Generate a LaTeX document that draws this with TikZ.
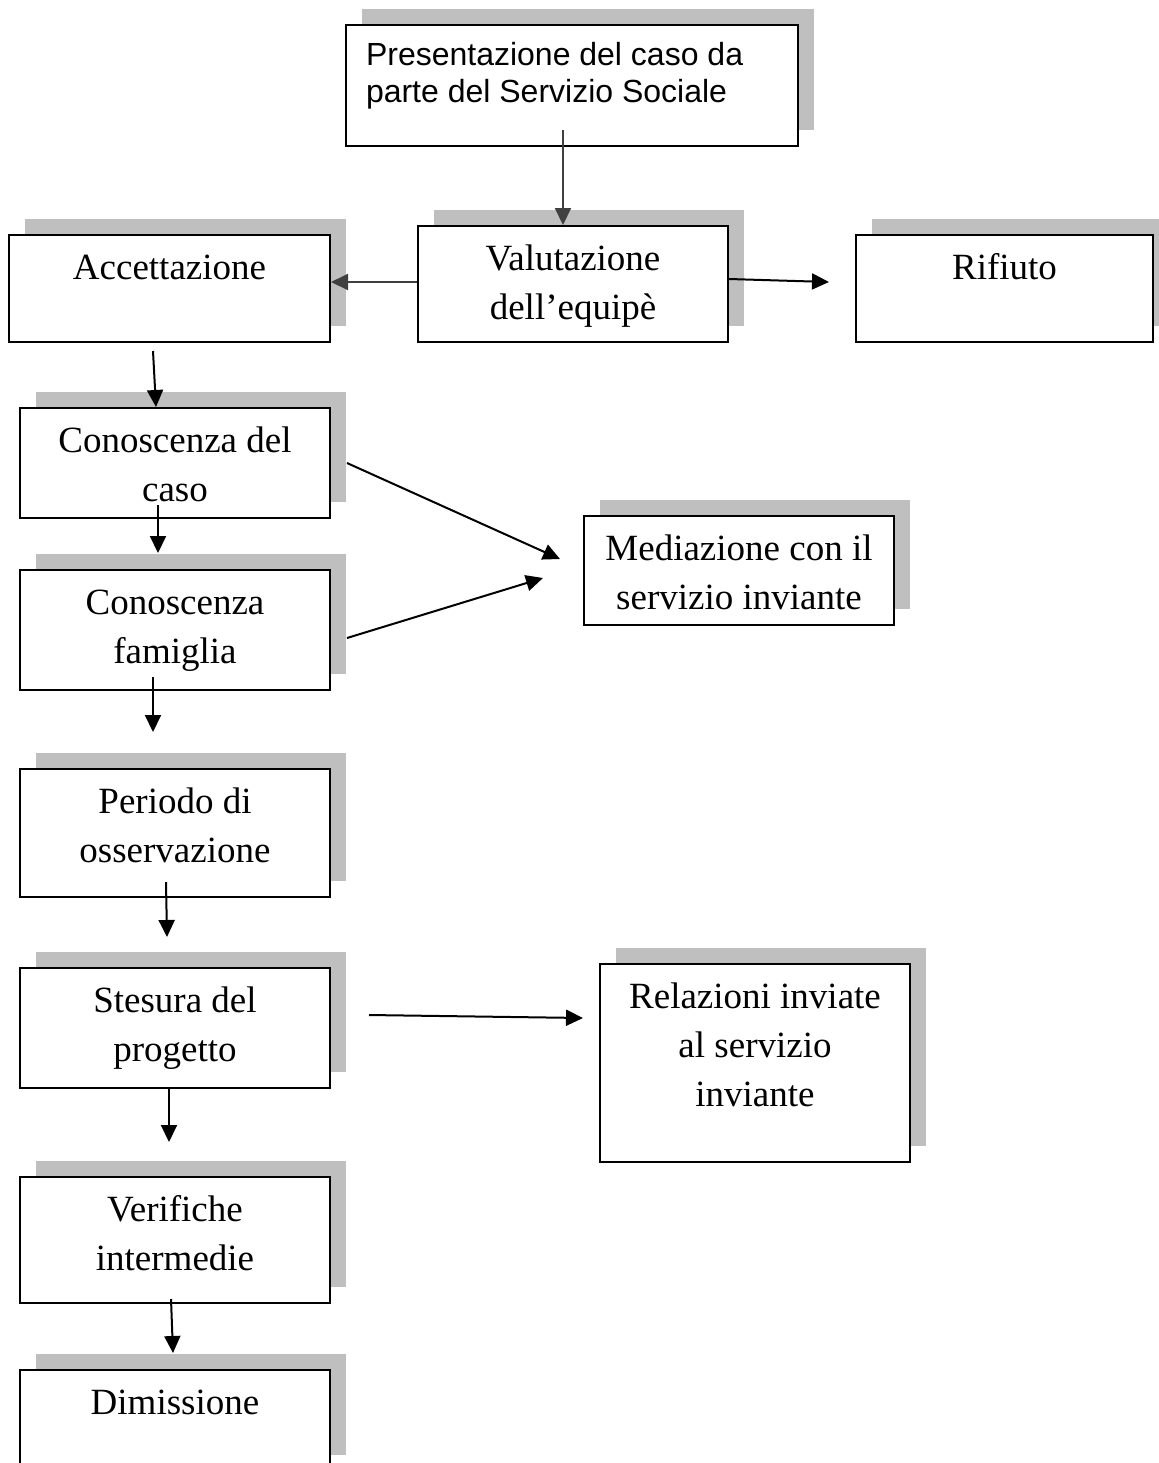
\documentclass[tikz,border=0pt]{standalone}
\usepackage{fontspec}
\setmainfont{Liberation Serif}
\newfontfamily\arialfont{Liberation Sans}
\definecolor{shadowgray}{RGB}{191,191,191}
\definecolor{arrowgray}{RGB}{64,64,64}
\usetikzlibrary{shadows, arrows.meta, positioning, calc}
% text block of a box: fixed size, text on top
\newcommand{\boxtext}[3]{\parbox[c][#2][t]{#1}{\centering\rule{0pt}{22pt}#3}}

\begin{document}
\begin{tikzpicture}[x=0.5pt, y=-0.5pt,
  font=\fontsize{18.5}{24.5}\selectfont,
  stepbox/.style={draw, fill=white, line width=1pt, inner sep=0pt, anchor=north west,
    general shadow={fill=shadowgray, shadow xshift=8pt, shadow yshift=8pt}},
  flow/.style={-{Triangle[length=8.5pt, width=8pt]}, line width=1pt},
  greyflow/.style={flow, draw=arrowgray, fill=arrowgray}]

  \useasboundingbox (0,0) rectangle (1159,1463);
  \clip (0,0) rectangle (1159,1463);

  % top of the chart
  \node[stepbox, inner xsep=10pt, font=\arialfont\fontsize{16}{18.5}\selectfont] (pres) at (345,24)
    {\parbox[c][60.5pt][t]{206pt}{\raggedright\rule{0pt}{20pt}Presentazione del caso da\\parte del Servizio Sociale}};
  \node[stepbox] (valu) at (417,225) {\boxtext{155pt}{58pt}{Valutazione\\dell’equipè}};
  \node[stepbox] (acc) at (8,234) {\boxtext{160.5pt}{53.5pt}{Accettazione}};
  \node[stepbox] (rif) at (855,234) {\boxtext{148.5pt}{53.5pt}{Rifiuto}};

  % left column
  \node[stepbox] (cdc) at (19,407) {\boxtext{155pt}{55pt}{Conoscenza del\\caso}};
  \node[stepbox] (cfa) at (19,569) {\boxtext{155pt}{60pt}{Conoscenza\\famiglia}};
  \node[stepbox] (per) at (19,768) {\boxtext{155pt}{64pt}{Periodo di\\osservazione}};
  \node[stepbox] (ste) at (19,967) {\boxtext{155pt}{60pt}{Stesura del\\progetto}};
  \node[stepbox] (ver) at (19,1176) {\boxtext{155pt}{63pt}{Verifiche\\intermedie}};
  \node[stepbox] (dim) at (19,1369) {\boxtext{155pt}{50.5pt}{Dimissione}};

  % right side
  \node[stepbox] (med) at (583,515) {\boxtext{155pt}{54.5pt}{Mediazione con il\\servizio inviante}};
  \node[stepbox] (rel) at (599,963) {\boxtext{155pt}{99pt}{Relazioni inviate\\al servizio\\inviante}};

  % connectors
  \draw[greyflow] ([xshift=-4.5pt, yshift=8.5pt]pres.south) -- ([xshift=-5pt]valu.north);
  \draw[greyflow] ([yshift=1pt]valu.west) -- ([yshift=3.25pt]acc.east);
  \draw[flow] ([yshift=2.5pt]valu.east) -- ([xshift=-13pt, yshift=3.25pt]rif.west);
  \draw[flow] ([xshift=-8.25pt, yshift=-4pt]acc.south) -- ([xshift=-9.5pt]cdc.north);
  \draw[flow] ([xshift=-8.5pt, yshift=7pt]cdc.south) -- ([xshift=-8.5pt, yshift=8pt]cfa.north);
  \draw[flow] ([xshift=-11pt, yshift=7pt]cfa.south) -- ([xshift=-11pt, yshift=18pt]per.north);
  \draw[flow] ([xshift=-4.5pt, yshift=8pt]per.south) -- ([xshift=-4pt, yshift=15pt]ste.north);
  \draw[flow] ([xshift=-3pt, yshift=1pt]ste.south) -- ([xshift=-3pt, yshift=17pt]ver.north);
  \draw[flow] ([xshift=-2pt, yshift=2.5pt]ver.south) -- ([xshift=-1pt, yshift=8pt]dim.north);
  \draw[flow] ([xshift=8pt]cdc.east) -- ([xshift=-11.5pt, yshift=5.75pt]med.west);
  \draw[flow] ([xshift=8pt, yshift=-4pt]cfa.east) -- ([xshift=-20pt, yshift=-3.75pt]med.west);
  \draw[flow] ([xshift=19pt, yshift=6.5pt]ste.east) -- ([xshift=-8pt, yshift=22.5pt]rel.west);
\end{tikzpicture}
\end{document}
